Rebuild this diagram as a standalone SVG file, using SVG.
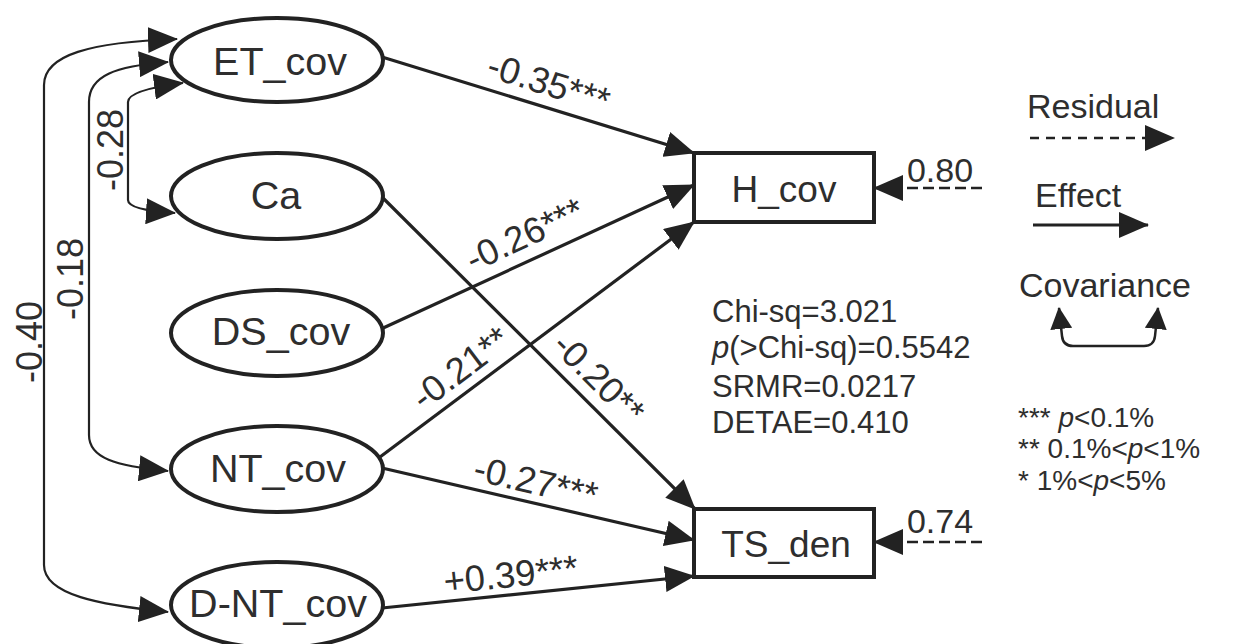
<svg xmlns="http://www.w3.org/2000/svg" width="1244" height="644" viewBox="0 0 1244 644">
<defs>
<marker id="ah" markerUnits="userSpaceOnUse" markerWidth="30" markerHeight="26" refX="29" refY="13" orient="auto-start-reverse" viewBox="0 0 30 26">
<path d="M0,0 L30,13 L0,26 Z" fill="#222"/>
</marker>
<marker id="ahs" markerUnits="userSpaceOnUse" markerWidth="22" markerHeight="22" refX="21" refY="11" orient="auto-start-reverse" viewBox="0 0 22 22">
<path d="M0,0 L22,11 L0,22 Z" fill="#222"/>
</marker>
<style>
text{font-family:"Liberation Sans",Arial,sans-serif;fill:#2e2e2e;}
.node ellipse,.node rect{fill:#fff;stroke:#222;stroke-width:4;}
.nt{font-size:39.5px;text-anchor:middle;}
.rt{font-size:37px;text-anchor:middle;}
.eff{fill:none;stroke:#222;stroke-width:3.2;marker-end:url(#ah);}
.cov{fill:none;stroke:#222;stroke-width:2.2;marker-start:url(#ah);marker-end:url(#ah);}
.res{fill:none;stroke:#222;stroke-width:2.5;stroke-dasharray:11 5;marker-end:url(#ah);}
.el{font-size:36.5px;text-anchor:middle;}
.rl{font-size:34px;text-anchor:middle;}
.cl{font-size:36px;text-anchor:middle;}
.st{font-size:31px;}
.sg{font-size:28px;}
.lg{font-size:34px;}
</style>
</defs>
<g id="connectors">
<path class="eff" d="M382,57 L694,153"/>
<path class="eff" d="M381,329 L694,185"/>
<path class="eff" d="M380,457 L694,222"/>
<path class="eff" d="M383,198 L695,509"/>
<path class="eff" d="M382,468 L694,540"/>
<path class="eff" d="M382,608 L694,576"/>
<path class="res" d="M982,188 L874,188"/>
<path class="res" d="M982,542 L874,542"/>
<path class="cov" d="M183,83 Q128,90 128,102 L128,200 Q128,210 175,213"/>
<path class="cov" d="M168,62 C115,66 89,76 89,102 L89,435 C89,458 115,466 168,471"/>
<path class="cov" d="M177,39 C90,42 44,55 44,85 L44,565 C44,595 100,605 168,612"/>
<text class="el" transform="translate(545,95) rotate(17.5)">-0.35***</text>
<text class="el" transform="translate(530,246) rotate(-25)">-0.26***</text>
<text class="el" transform="translate(468,378) rotate(-37)">-0.21**</text>
<text class="el" transform="translate(590,387) rotate(45)">-0.20**</text>
<text class="el" transform="translate(533,494) rotate(13)">-0.27***</text>
<text class="el" transform="translate(512,587) rotate(-6)">+0.39***</text>
<text class="rl" x="940" y="182">0.80</text>
<text class="rl" x="940" y="533">0.74</text>
<text class="cl" transform="translate(123,150) rotate(-90)">-0.28</text>
<text class="cl" transform="translate(83,279) rotate(-90)">-0.18</text>
<text class="cl" transform="translate(42,342) rotate(-90)">-0.40</text>
</g>
<g id="ET_cov" class="node"><ellipse cx="277" cy="60" rx="106" ry="42"/><text class="nt" x="280" y="75">ET_cov</text></g>
<g id="Ca" class="node"><ellipse cx="277" cy="196" rx="106" ry="43"/><text class="nt" x="276" y="209">Ca</text></g>
<g id="DS_cov" class="node"><ellipse cx="277" cy="333" rx="106" ry="43"/><text class="nt" x="281" y="345">DS_cov</text></g>
<g id="NT_cov" class="node"><ellipse cx="277" cy="469" rx="106" ry="43"/><text class="nt" x="278" y="482">NT_cov</text></g>
<g id="D-NT_cov" class="node"><ellipse cx="277" cy="605" rx="106" ry="43"/><text class="nt" x="278" y="617">D-NT_cov</text></g>
<g id="H_cov" class="node"><rect x="694" y="153" width="180" height="69"/><text class="rt" x="784" y="202">H_cov</text></g>
<g id="TS_den" class="node"><rect x="694" y="509" width="180" height="68"/><text class="rt" x="786" y="557">TS_den</text></g>
<g id="stats">
<text class="st" x="712" y="322">Chi-sq=3.021</text>
<text class="st" x="712" y="358"><tspan font-style="italic">p</tspan>(&gt;Chi-sq)=0.5542</text>
<text class="st" x="712" y="397">SRMR=0.0217</text>
<text class="st" x="712" y="433">DETAE=0.410</text>
</g>
<g id="legend">
<text class="lg" x="1027" y="118">Residual</text>
<path d="M1030,138 L1174,138" fill="none" stroke="#222" stroke-width="2.5" stroke-dasharray="9 7" marker-end="url(#ah)"/>
<text class="lg" x="1035" y="207">Effect</text>
<path d="M1033,225 L1148,225" fill="none" stroke="#222" stroke-width="3" marker-end="url(#ah)"/>
<text class="lg" x="1019" y="297">Covariance</text>
<path d="M1059,308 L1062,336 Q1063,346 1073,346 L1144,346 Q1154,346 1155,336 L1158,308" fill="none" stroke="#222" stroke-width="2.5" marker-start="url(#ahs)" marker-end="url(#ahs)"/>
<text class="sg" x="1018" y="427">*** <tspan font-style="italic">p</tspan>&lt;0.1%</text>
<text class="sg" x="1018" y="458">** 0.1%&lt;<tspan font-style="italic">p</tspan>&lt;1%</text>
<text class="sg" x="1018" y="490">* 1%&lt;<tspan font-style="italic">p</tspan>&lt;5%</text>
</g>
</svg>
